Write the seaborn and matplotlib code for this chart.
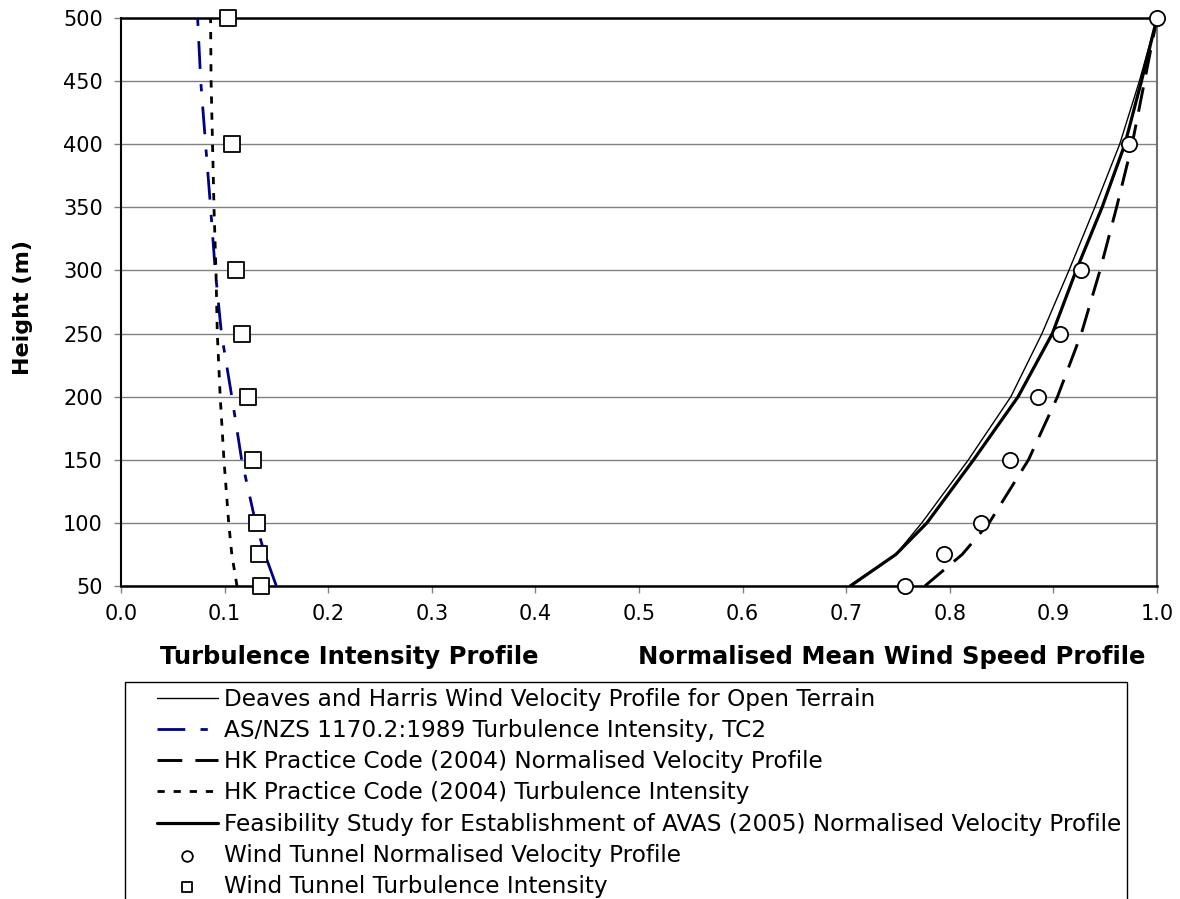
import matplotlib
matplotlib.use("Agg")
import matplotlib.pyplot as plt
from matplotlib.lines import Line2D
from matplotlib.collections import PathCollection
from matplotlib.legend_handler import HandlerLine2D, HandlerPathCollection
import seaborn as sns

# Profile heights (m) for the code / theory curves
heights = [50, 75, 100, 150, 200, 250, 300, 350, 400, 450, 500]

# Normalised mean wind speed profiles
deaves_harris = [0.703, 0.748, 0.773, 0.818, 0.859, 0.889, 0.915, 0.940, 0.964, 0.983, 1.000]
avas_velocity = [0.704, 0.748, 0.778, 0.823, 0.866, 0.899, 0.922, 0.947, 0.969, 0.985, 1.000]
hk_velocity = [0.776, 0.812, 0.838, 0.876, 0.904, 0.927, 0.945, 0.961, 0.976, 0.988, 1.000]

# Turbulence intensity profiles
asnzs_turbulence = [0.150, 0.139, 0.130, 0.1165, 0.107, 0.097, 0.091, 0.0865, 0.0817, 0.077, 0.074]
hk_turbulence = [0.112, 0.107, 0.104, 0.0994, 0.0958, 0.093, 0.0917, 0.0898, 0.0884, 0.087, 0.0865]

# Wind tunnel measurements
tunnel_heights = [50, 75, 100, 150, 200, 250, 300, 400, 500]
tunnel_velocity = [0.757, 0.794, 0.830, 0.858, 0.885, 0.906, 0.927, 0.973, 1.000]
tunnel_turbulence = [0.135, 0.133, 0.131, 0.127, 0.123, 0.117, 0.111, 0.107, 0.103]

x_ticks = [0.0, 0.1, 0.2, 0.3, 0.4, 0.5, 0.6, 0.7, 0.8, 0.9, 1.0]
y_ticks = [50, 100, 150, 200, 250, 300, 350, 400, 450, 500]

labels = [
    "Deaves and Harris Wind Velocity Profile for Open Terrain",
    "AS/NZS 1170.2:1989 Turbulence Intensity, TC2",
    "HK Practice Code (2004) Normalised Velocity Profile",
    "HK Practice Code (2004) Turbulence Intensity",
    "Feasibility Study for Establishment of AVAS (2005) Normalised Velocity Profile",
    "Wind Tunnel Normalised Velocity Profile",
    "Wind Tunnel Turbulence Intensity",
]

sns.set_theme(style="ticks")
plt.rcParams["font.family"] = ["DejaVu Sans"]
plt.rcParams["text.color"] = "black"
plt.rcParams["axes.labelcolor"] = "black"

fig = plt.figure(figsize=(11.8, 8.99), dpi=100)
ax = fig.add_axes([0.1025, 0.3482, 0.878, 0.6318])


def curve(x, y, **kw):
    sns.lineplot(x=x, y=y, sort=False, estimator=None, ax=ax, **kw)


curve(deaves_harris, heights, color="black", linewidth=1.0, label=labels[0], zorder=3)
curve(asnzs_turbulence, heights, color="#000080", linewidth=2.0,
      linestyle=(0, (10, 5.5, 2.6, 5.5)), label=labels[1], zorder=3)
curve(hk_velocity, heights, color="black", linewidth=2.1,
      linestyle=(0, (8.5, 4.5)), label=labels[2], zorder=3)
curve(hk_turbulence, heights, color="black", linewidth=2.0,
      linestyle=(0, (2.6, 3.2)), label=labels[3], zorder=3)
curve(avas_velocity, heights, color="black", linewidth=2.3, label=labels[4], zorder=3)

sns.scatterplot(x=tunnel_velocity, y=tunnel_heights, marker="o", s=120,
                facecolor="white", edgecolor="black", linewidth=1.3,
                label=labels[5], ax=ax, zorder=5, clip_on=False)
sns.scatterplot(x=tunnel_turbulence, y=tunnel_heights, marker="s", s=120,
                facecolor="white", edgecolor="black", linewidth=1.3,
                label=labels[6], ax=ax, zorder=5, clip_on=False)

handles, hl = ax.get_legend_handles_labels()
if ax.get_legend() is not None:
    ax.get_legend().remove()

ax.set_xlim(0, 1.0)
ax.set_ylim(50, 500)
ax.set_xticks(x_ticks)
ax.set_xticklabels([f"{v:.1f}" for v in x_ticks])
ax.set_yticks(y_ticks)
ax.set_yticklabels([str(v) for v in y_ticks])
ax.set_xlabel("")
ax.set_ylabel("")

ax.yaxis.grid(True, color="#808080", linewidth=1.0)
ax.set_axisbelow(True)

for side in ("top", "bottom", "left"):
    ax.spines[side].set_visible(True)
    ax.spines[side].set_color("black")
    ax.spines[side].set_linewidth(1.8)
ax.spines["left"].set_linewidth(1.5)
ax.spines["right"].set_visible(True)
ax.spines["right"].set_color("#707070")
ax.spines["right"].set_linewidth(1.5)

ax.tick_params(axis="both", direction="out", length=5, width=1.0, color="#808080",
               labelsize=15, labelcolor="black")
ax.tick_params(axis="y", pad=8)
ax.tick_params(axis="x", pad=8)

fig.text(0.0195, 0.6585, "Height (m)", rotation=90, ha="center", va="center",
         fontsize=16, fontweight="bold", color="black")
fig.text(0.2958, 0.269, "Turbulence Intensity Profile", ha="center", va="center",
         fontsize=17.5, fontweight="bold", color="black")
fig.text(0.756, 0.269, "Normalised Mean Wind Speed Profile", ha="center", va="center",
         fontsize=17.5, fontweight="bold", color="black")

fs = 16.7
leg = fig.legend(
    handles, hl, loc="upper left", bbox_to_anchor=(0.1059, 0.2414),
    frameon=True, fancybox=False, edgecolor="black", framealpha=1,
    fontsize=fs, handlelength=3.76, handletextpad=0.26, labelspacing=0.355,
    borderpad=0.25, borderaxespad=0, markerscale=0.7,
    handler_map={
        Line2D: HandlerLine2D(xpad=1.12),
        PathCollection: HandlerPathCollection(xpad=1.12),
    },
)
leg.get_frame().set_linewidth(1.0)
for t in leg.get_texts():
    t.set_color("black")

fig.savefig("out.png", dpi=100)
